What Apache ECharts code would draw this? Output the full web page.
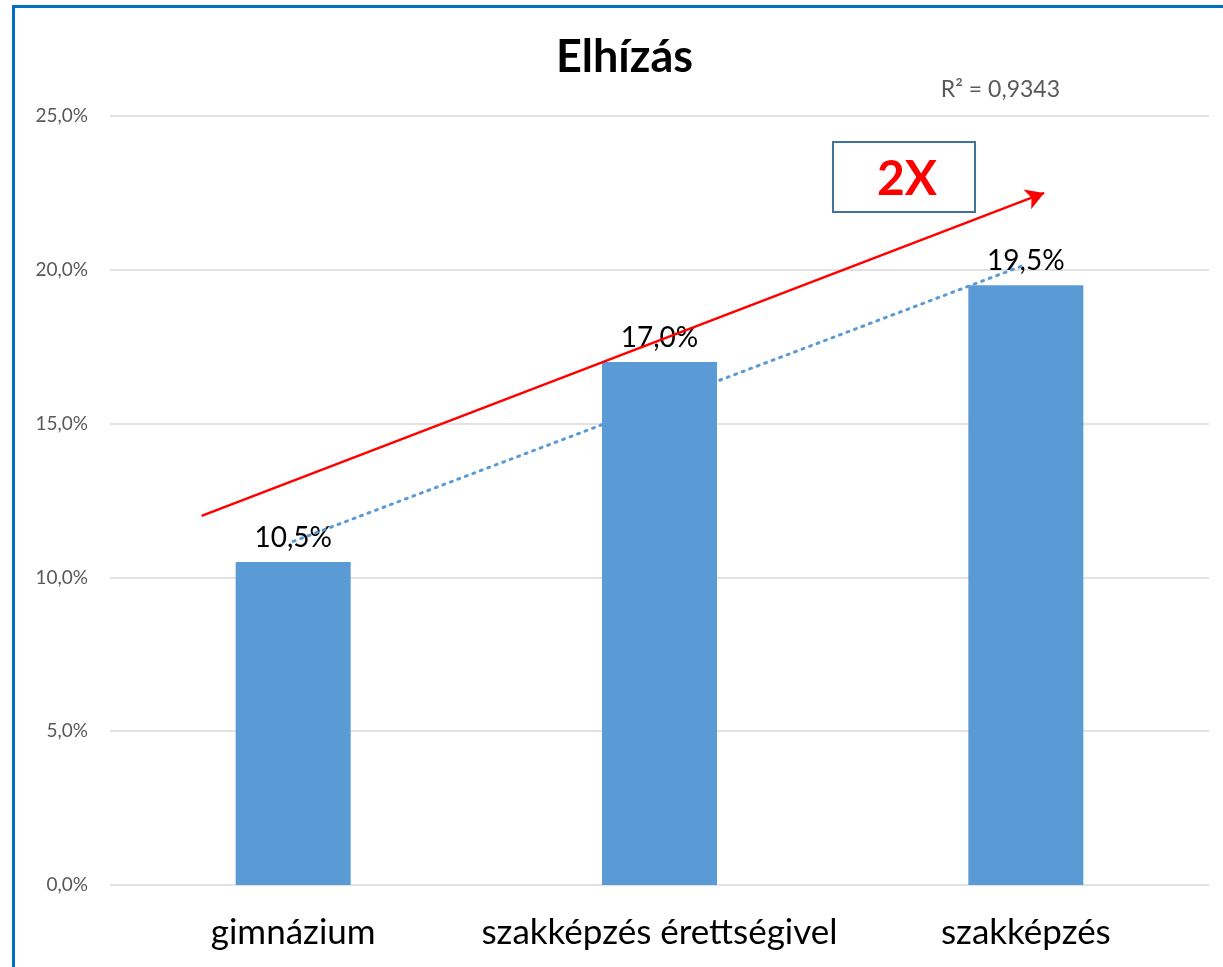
<!DOCTYPE html>
<html>
<head>
<meta charset="utf-8">
<script src="https://cdn.jsdelivr.net/npm/echarts@6/dist/echarts.min.js"></script>
<style>
  html, body { margin: 0; padding: 0; background: #fff; }
  #chart { width: 1223px; height: 967px; }
</style>
</head>
<body>
<div id="chart"></div>
<script>
// adatok
const categories = ["gimnázium", "szakképzés érettségivel", "szakképzés"];
const values = [10.5, 17.0, 19.5];
const yTicks = [0, 5, 10, 15, 20, 25];
// lineáris trendvonal végpontjai (leolvasva)
const trendX = [0, 2];
const trendY = [11.17, 20.17];
// piros nyíl (kategória-index, %)
const arrowStart = [-0.25, 12.0];
const arrowEnd = [2.05, 22.5];
const rSquared = "R² = 0,9343";

const fmt = v => v.toFixed(1).replace(".", ",") + "%";
const font = "Lato, 'Open Sans', sans-serif";

const chart = echarts.init(document.getElementById("chart"));
chart.setOption({
  animation: false,
  title: {
    text: "Elhízás", left: 551, top: 30,
    textStyle: { fontFamily: font, fontSize: 45, fontWeight: "bold", color: "#000" }
  },
  grid: { left: 110, right: 14, top: 116, bottom: 82 },
  xAxis: [
    {
      type: "category", data: categories,
      axisLine: { show: false }, axisTick: { show: false },
      axisLabel: { fontFamily: font, fontSize: 35, color: "#000", margin: 30, interval: 0 }
    },
    { type: "value", min: -0.5, max: 2.5, show: false }
  ],
  yAxis: {
    type: "value", min: yTicks[0], max: yTicks[yTicks.length - 1], interval: 5,
    axisLine: { show: false }, axisTick: { show: false },
    axisLabel: { fontFamily: font, fontSize: 19, color: "#595959", margin: 22, formatter: fmt },
    splitLine: { lineStyle: { color: "#d9d9d9", width: 1.5 } }
  },
  series: [
    {
      type: "bar", data: values, barWidth: 115,
      itemStyle: { color: "#5b9bd5" },
      label: {
        show: true, position: "top", distance: 10, formatter: p => fmt(p.value),
        fontFamily: font, fontSize: 28, color: "#000"
      },
      z: 2
    },
    {
      type: "line", xAxisIndex: 1,
      data: trendX.map((x, i) => [x, trendY[i]]),
      symbol: "none",
      lineStyle: { color: "#5b9bd5", width: 3, type: [2, 6], cap: "round" },
      z: 3,
      markLine: {
        silent: true, symbol: ["none", "arrow"], symbolSize: [16, 18],
        label: { show: false },
        lineStyle: { color: "#ff0000", width: 2.5, type: "solid" },
        data: [[{ coord: arrowStart }, { coord: arrowEnd }]]
      }
    }
  ],
  graphic: [
    {
      type: "rect", left: 11, top: 4,
      shape: { width: 1400, height: 1100 },
      style: { fill: "none", stroke: "#0070c0", lineWidth: 3 }
    },
    {
      type: "text", x: 1060, y: 90,
      style: {
        text: rSquared, font: "23px " + font, fill: "#595959",
        align: "right", verticalAlign: "middle"
      }
    },
    {
      type: "rect", x: 833, y: 142,
      shape: { width: 142, height: 70 },
      style: { fill: "#fff", stroke: "#41719c", lineWidth: 2 },
      z: 10
    },
    {
      type: "text", x: 907, y: 180,
      style: {
        text: "2X", font: "bold 48px " + font, fill: "#ff0000",
        align: "center", verticalAlign: "middle"
      },
      z: 11
    }
  ]
});
</script>
</body>
</html>
